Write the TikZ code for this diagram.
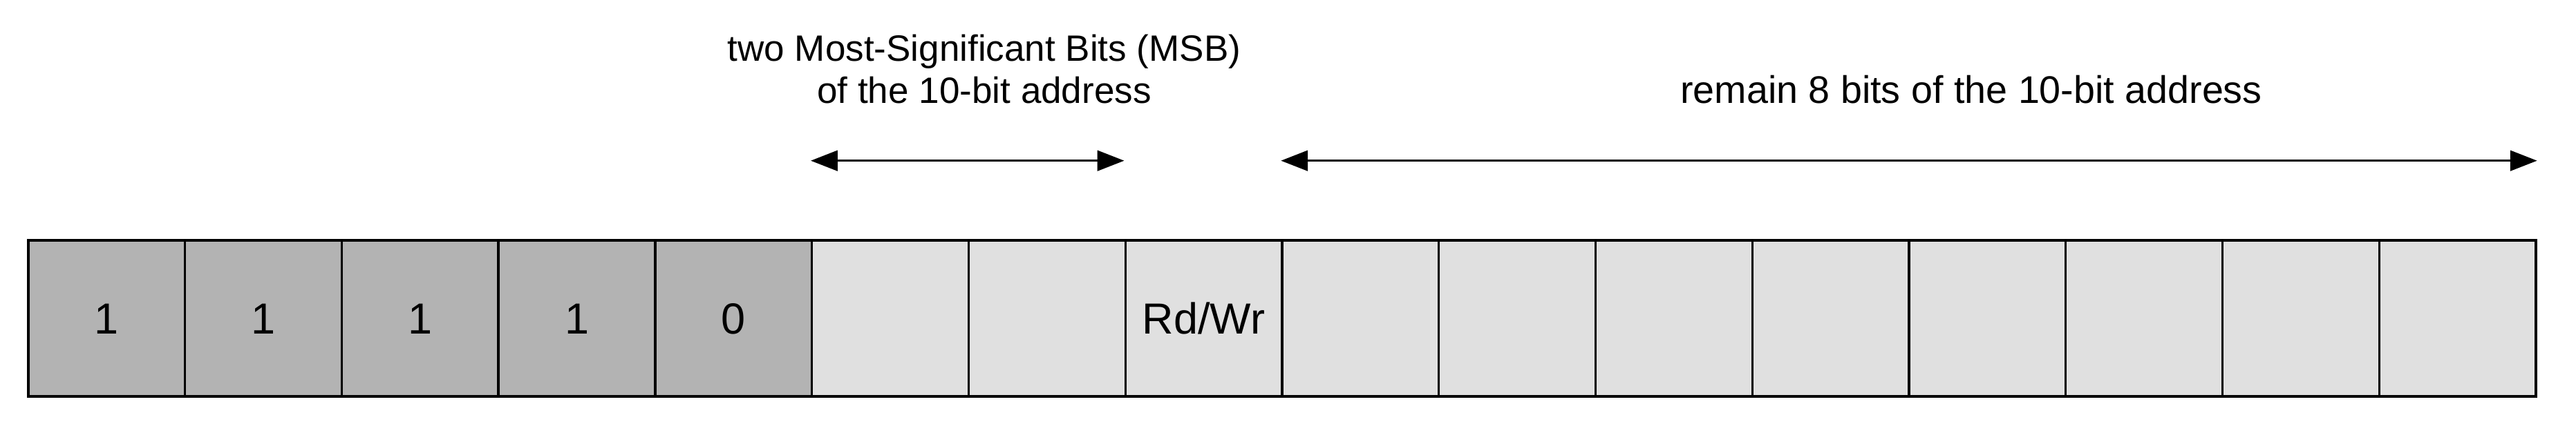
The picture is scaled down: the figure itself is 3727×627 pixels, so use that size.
\documentclass[tikz,border=0pt]{standalone}
\usepackage{fontspec}
\setmainfont{Liberation Sans}
\usetikzlibrary{arrows.meta}
\definecolor{darkcell}{HTML}{B3B3B3}
\definecolor{lightcell}{HTML}{E0E0E0}
\begin{document}
\begin{tikzpicture}[x=0.190476pt,y=-0.190476pt,
  cellbox/.style={draw=black,line width=0.63pt,rectangle,inner sep=0pt,
    minimum width=43.193pt,minimum height=43.05pt,anchor=north west,
    font=\fontsize{12}{14}\selectfont,text height=8.6pt,text depth=0pt},
  fixedcell/.style={cellbox,fill=darkcell},
  addrcell/.style={cellbox,fill=lightcell},
  spanarrow/.style={line width=0.65pt,
    {Triangle[length=7.4pt,width=5.6pt]}-{Triangle[length=7.4pt,width=5.6pt]}},
  toplabel/.style={font=\fontsize{10.1}{11.8}\selectfont,align=center,inner sep=0pt,anchor=base},
  widelabel/.style={toplabel,font=\fontsize{10.6}{11.8}\selectfont}]
\useasboundingbox (0,0) rectangle (3727,627);
\foreach \i/\t in {1/1,2/1,3/1,4/1,5/0}
  \node[fixedcell] (c\i) at ({39.2+(\i-1)*226.76},346.3) {\t};
\foreach \i/\t in {6/{},7/{},8/{Rd/Wr},9/{},10/{},11/{},12/{},13/{},14/{},15/{},16/{}}
  \node[addrcell] (c\i) at ({39.2+(\i-1)*226.76},346.3) {\t};
\coordinate (ay) at (0,232.7);
\coordinate (a1) at (c6.north west |- ay);
\coordinate (a2) at (c8.north west |- ay);
\coordinate (b1) at (c9.north west |- ay);
\coordinate (b2) at (c16.north east |- ay);
\draw[spanarrow] (a1) -- (a2);
\draw[spanarrow] (b1) -- (b2);
\node[toplabel] (l1) at (1424,150) {two Most-Significant Bits (MSB)\\of the 10-bit address};
\node[widelabel] (l2) at (2852,150) {remain 8 bits of the 10-bit address};
\end{tikzpicture}
\end{document}
